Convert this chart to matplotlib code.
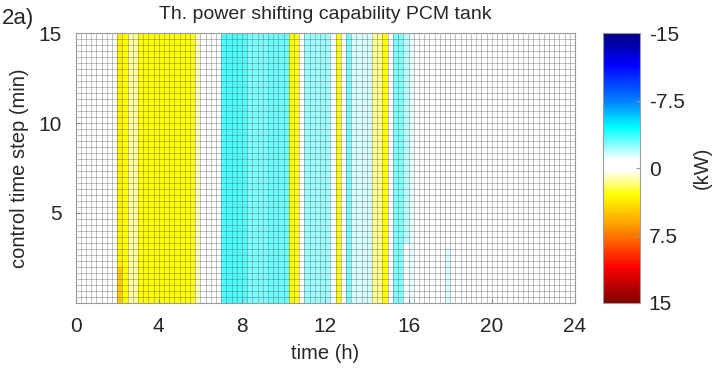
import matplotlib
matplotlib.use("Agg")
import matplotlib.pyplot as plt
import numpy as np
from matplotlib.colors import LinearSegmentedColormap

plt.rcParams['font.family'] = ['Liberation Sans', 'DejaVu Sans']

# 15-min slots over the day (96) and 1/3-min control steps (45)
n_slots = 96
n_steps = 45
slot_h = 0.25
step_min = 1.0 / 3.0

# power shifting value per 15-min slot (kW)
slot_values = ([0.0] * 8
               + [3.6, 3.0, 1.4, 1.4]
               + [3.0] * 10
               + [2.8, 1.0]
               + [0.0] * 4
               + [-3.4, -3.4, -3.4, -3.3, -3.3]
               + [-2.7, -2.7, -2.7, -2.7]
               + [-3.0, -3.0, -3.0, -3.0]
               + [3.0, 3.0, 0.0]
               + [-2.3, -2.3, -2.3, -2.3, -2.3, -1.0]
               + [3.0, 0.0, -2.9]
               + [-1.5, -1.5, -1.5, -1.5]
               + [1.5, 1.5, 3.0, 0.0]
               + [-2.7, -2.7, -1.9, -1.2]
               + [0.0] * 31)

# cells that differ in the lowest control steps: (slot, number of rows, value)
low_row_slots = [8, 63, 71]
low_row_counts = [6, 10, 9]
low_row_values = [5.0, -1.0, -1.5]

Z = np.tile(np.array(slot_values), (n_steps, 1))
for s, n, v in zip(low_row_slots, low_row_counts, low_row_values):
    Z[:n, s] = v

x_edges = np.arange(n_slots + 1) * slot_h
y_edges = np.arange(n_steps + 1) * step_min

# colour map: dark blue (-15) .. white (0) .. dark red (15)
cmap_vals = [-15, -11.5, -7.5, -4.5, -0.9, 0.3, 3.0, 6.5, 11.0, 15]
cmap_cols = [(0, 0, 0.5), (0, 0, 1), (0, 0.5, 1), (0, 1, 1), (1, 1, 1),
             (1, 1, 1), (1, 1, 0), (1, 0.6, 0), (1, 0, 0), (0.5, 0, 0)]
pos = [(v + 15) / 30.0 for v in cmap_vals]
cmap = LinearSegmentedColormap.from_list('shift', list(zip(pos, cmap_cols)), N=256)

fig = plt.figure(figsize=(7.22, 3.75), dpi=100)
ax = fig.add_axes([0.1046, 0.192, 0.6918, 0.72])
cax = fig.add_axes([0.835, 0.192, 0.052, 0.72])

txt = '#262626'
mesh = ax.pcolormesh(x_edges, y_edges, Z, cmap=cmap, vmin=-15, vmax=15,
                     shading='flat')
# cell edges, thin and semi-transparent like the MATLAB pcolor mesh
ax.vlines(x_edges, 0, 15, colors='#505050', linewidth=0.6, alpha=0.42)
ax.hlines(y_edges, 0, 24, colors='#505050', linewidth=0.6, alpha=0.42)

ax.set_xlim(0, 24)
ax.set_ylim(0, 15)
ax.set_xticks([0, 4, 8, 12, 16, 20, 24])
ax.set_yticks([5, 10, 15])
ax.tick_params(direction='in', length=3, colors='#9a9a9a', labelcolor=txt,
               labelsize=15, pad=10)
for sp in ax.spines.values():
    sp.set_color('#9a9a9a')
ax.set_xlabel('time (h)', fontsize=14.5, color=txt, labelpad=6)
ax.set_ylabel('control time step (min)', fontsize=14.5, color=txt, labelpad=7)
ax.set_title('Th. power shifting capability PCM tank', fontsize=14, color=txt, pad=10)

cb = fig.colorbar(mesh, cax=cax)
cb.ax.invert_yaxis()
cb.set_ticks([-15, -7.5, 0, 7.5, 15])
cb.set_ticklabels(['-15', '-7.5', '0', '7.5', '15'])
cb.ax.tick_params(direction='in', length=3, colors='#9a9a9a', labelcolor=txt,
                  labelsize=15, pad=6)
cb.outline.set_edgecolor('#9a9a9a')
cb.set_label('(kW)', fontsize=14.5, color=txt, labelpad=6)

fig.text(0.003, 0.935, '2a)', fontsize=16, color=txt)

fig.savefig('out.png', dpi=100)
